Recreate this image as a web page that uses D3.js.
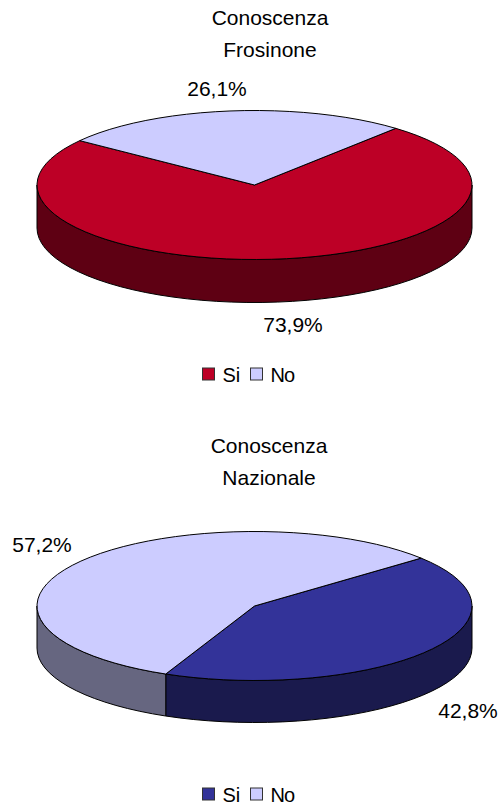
<!DOCTYPE html>
<meta charset="utf-8">
<style>
 html, body { margin: 0; padding: 0; background: white; }
 svg { display: block; }
 text { font-family: 'Liberation Sans', Arial, sans-serif; font-size: 21px; fill: #000; }
 .legend { font-size: 20px; }
</style>

<svg width="500" height="804"></svg>

<script src="https://d3js.org/d3.v7.min.js"></script>
<script>
 var categories = ['Si', 'No'];
 var frosinoneValues = [73.9, 26.1];
 var nazionaleValues = [42.8, 57.2];
 var frosinoneLabels = ['73,9%', '26,1%'];
 var nazionaleLabels = ['42,8%', '57,2%'];
 var frosinoneTitle = ['Conoscenza', 'Frosinone'];
 var nazionaleTitle = ['Conoscenza', 'Nazionale'];

 var svg = d3.select('svg');
 var deg = Math.PI / 180;

 function drawPie(o) {
     var g = svg.append('g');
     var pt = function(a, dy) {
         return [o.cx + o.rx * Math.sin(a), o.cy - o.ry * Math.cos(a) + (dy || 0)];
     };
     var line = d3.line();

     // pie angles, first slice starts at the rotation of the original
     var arcs = d3.pie().sort(null).startAngle(o.start * deg).endAngle(o.start * deg + 2 * Math.PI)(o.values);

     function edge(a0, a1, dy) {
         var n = Math.max(2, Math.ceil(Math.abs(a1 - a0) / (4 * deg)));
         return d3.range(n + 1).map(function(i) { return pt(a0 + (a1 - a0) * i / n, dy); });
     }

     // side wall: only the part of a slice on the front half of the ellipse
     arcs.forEach(function(d) {
         [0, 2].forEach(function(turn) {
             var a0 = Math.max(d.startAngle, (90 + turn * 180) * deg);
             var a1 = Math.min(d.endAngle, (270 + turn * 180) * deg);
             if (a1 <= a0) return;
             var pts = edge(a0, a1, 0).concat(edge(a1, a0, o.depth));
             g.append('path').attr('d', line(pts) + 'Z')
              .attr('fill', o.sides[d.index]).attr('stroke', '#000').attr('stroke-width', 1);
         });
     });

     // top face
     arcs.forEach(function(d) {
         var pts = [[o.cx, o.cy]].concat(edge(d.startAngle, d.endAngle, 0));
         g.append('path').attr('d', line(pts) + 'Z')
          .attr('fill', o.colors[d.index]).attr('stroke', '#000').attr('stroke-width', 1);
     });

     // labels
     o.labels.forEach(function(t, i) {
         g.append('text').attr('x', o.labelPos[i][0]).attr('y', o.labelPos[i][1])
          .attr('text-anchor', 'middle').text(t);
     });

     // title
     o.title.forEach(function(t, i) {
         g.append('text').attr('x', o.titleX).attr('y', o.titleY + i * 32)
          .attr('text-anchor', 'middle').text(t);
     });

     // legend
     var lx = [202.5, 250.5];
     categories.forEach(function(c, i) {
         g.append('rect').attr('x', lx[i]).attr('y', o.legendY - 14).attr('width', 12).attr('height', 12)
          .attr('fill', o.colors[i]).attr('stroke', '#333').attr('stroke-width', 1);
         g.append('text').attr('class', 'legend').attr('x', lx[i] + 20).attr('y', o.legendY)
          .attr('letter-spacing', i ? -1 : 0).text(c);
     });
 }

 drawPie({
     values: frosinoneValues, labels: frosinoneLabels, title: frosinoneTitle,
     cx: 254.5, cy: 185, rx: 217.5, ry: 74.5, depth: 43, start: 40.5,
     colors: ['#BD0026', '#CCCCFF'], sides: ['#5E0013', '#666680'],
     labelPos: [[293, 332], [217, 96]],
     titleX: 270, titleY: 25, legendY: 382
 });

 drawPie({
     values: nazionaleValues, labels: nazionaleLabels, title: nazionaleTitle,
     cx: 254.5, cy: 606, rx: 217.5, ry: 74.5, depth: 42, start: 50,
     colors: ['#333399', '#CCCCFF'], sides: ['#1A1A4D', '#666680'],
     labelPos: [[468, 718], [42, 552]],
     titleX: 269, titleY: 453, legendY: 802
 });
</script>
